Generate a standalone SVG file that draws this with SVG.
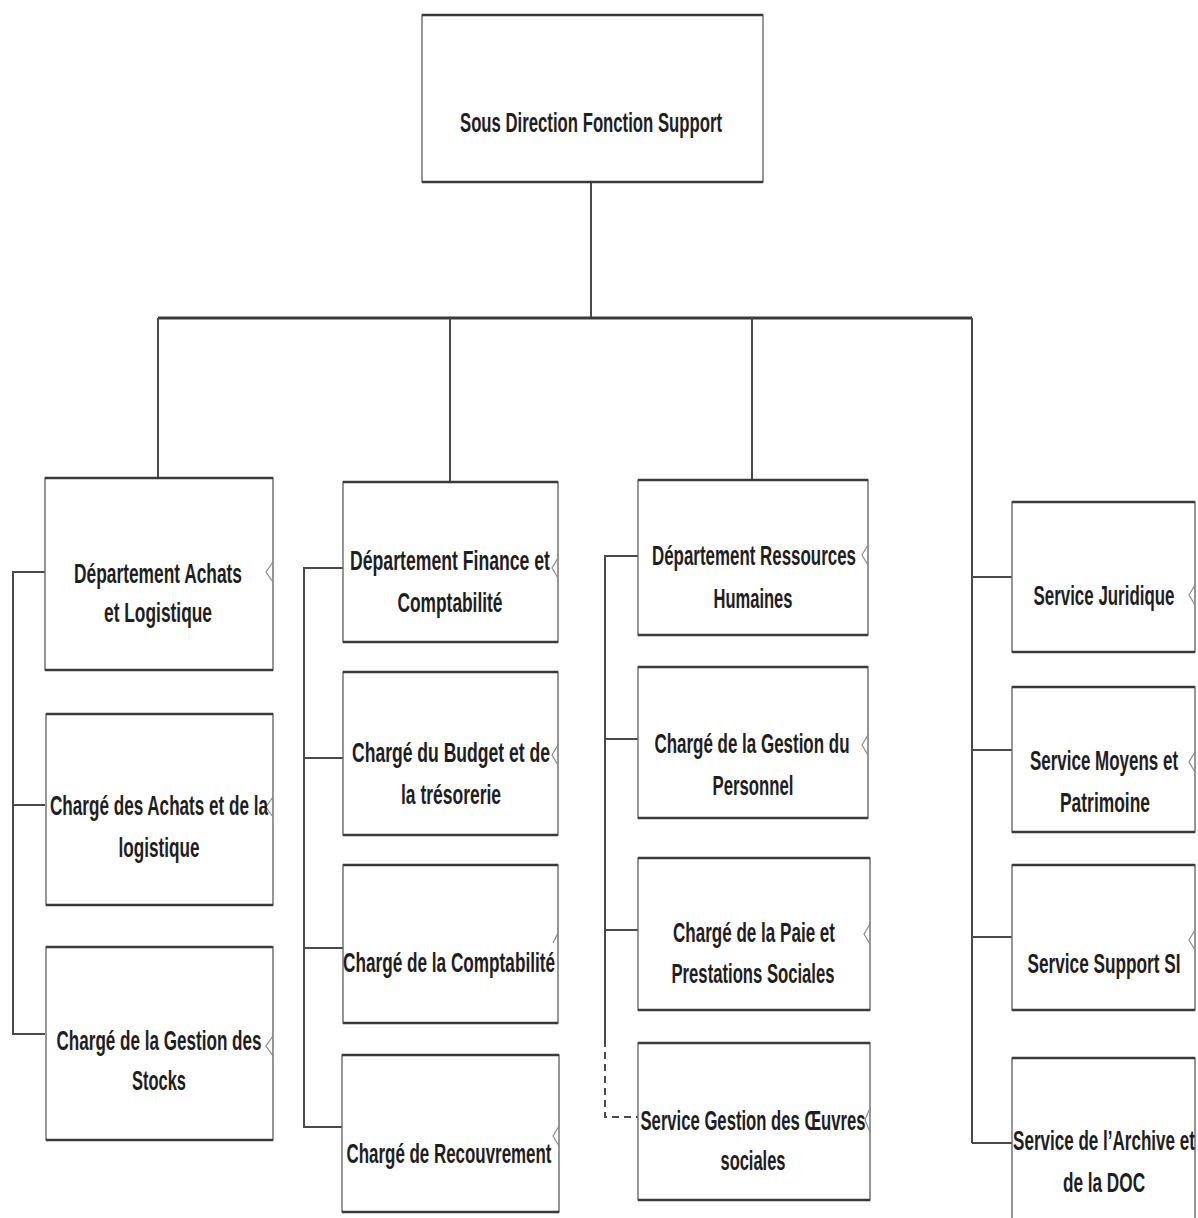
<svg xmlns="http://www.w3.org/2000/svg" width="1198" height="1218" viewBox="0 0 1198 1218">
<defs>
<style>
.bg{fill:#ffffff}
.box{fill:#ffffff;stroke:#6a6a6a;stroke-width:1.4}
.edge{stroke:#3a3a3a;stroke-width:2.6;fill:none}
.t{font-family:"Liberation Sans",Arial,sans-serif;font-weight:bold;font-size:27px;fill:#1e1e1e;text-anchor:middle}
.c{stroke:#4a4a4a;stroke-width:2;fill:none}
.bus{stroke:#3a3a3a;stroke-width:3;fill:none}
.dash{stroke:#4a4a4a;stroke-width:2;fill:none;stroke-dasharray:7 5}
.chev{stroke:#8a8a8a;stroke-width:1.2;fill:none}
</style>
</defs>
<rect class="bg" x="0" y="0" width="1198" height="1218"/>

<g id="connectors">
<path class="c" d="M591 183 V318"/>
<path class="bus" d="M158 318 H972"/>
<path class="c" d="M158 318 V478"/>
<path class="c" d="M450 318 V482"/>
<path class="c" d="M752 318 V480"/>
<path class="c" d="M972 318 V1143"/>
<path class="c" d="M45 572 H13 V1034 H45"/>
<path class="c" d="M13 805 H45"/>
<path class="c" d="M343 568 H304 V1127 H343"/>
<path class="c" d="M304 758 H343"/>
<path class="c" d="M304 948 H343"/>
<path class="c" d="M638 556 H605 V1040"/>
<path class="c" d="M605 739 H638"/>
<path class="c" d="M605 930 H638"/>
<path class="dash" d="M605 1040 V1117 H638"/>
<path class="c" d="M972 577 H1012"/>
<path class="c" d="M972 750 H1012"/>
<path class="c" d="M972 937 H1012"/>
<path class="c" d="M972 1143 H1012"/>
</g>

<g id="node-top">
<rect class="box" x="422" y="15" width="341" height="167"/>
<path class="edge" d="M422 15 H763 M422 182 H763"/>
<text class="t" x="591" y="132" textLength="262" lengthAdjust="spacingAndGlyphs">Sous Direction Fonction Support</text>
</g>

<g id="node-a1">
<rect class="box" x="45" y="478" width="228" height="192"/>
<path class="edge" d="M45 478 H273 M45 670 H273"/>
<path class="chev" d="M273 562 L266 572 L273 582"/>
<text class="t" x="158" y="583" textLength="168" lengthAdjust="spacingAndGlyphs">Département Achats</text>
<text class="t" x="158" y="622" textLength="108" lengthAdjust="spacingAndGlyphs">et Logistique</text>
</g>
<g id="node-a2">
<rect class="box" x="46" y="714" width="227" height="191"/>
<path class="edge" d="M46 714 H273 M46 905 H273"/>
<path class="chev" d="M273 797 L266 807 L273 817"/>
<text class="t" x="159" y="815" textLength="218" lengthAdjust="spacingAndGlyphs">Chargé des Achats et de la</text>
<text class="t" x="159" y="857" textLength="81" lengthAdjust="spacingAndGlyphs">logistique</text>
</g>
<g id="node-a3">
<rect class="box" x="46" y="947" width="227" height="193"/>
<path class="edge" d="M46 947 H273 M46 1140 H273"/>
<path class="chev" d="M273 1036 L266 1046 L273 1056"/>
<text class="t" x="159" y="1050" textLength="205" lengthAdjust="spacingAndGlyphs">Chargé de la Gestion des</text>
<text class="t" x="159" y="1090" textLength="54" lengthAdjust="spacingAndGlyphs">Stocks</text>
</g>

<g id="node-b1">
<rect class="box" x="343" y="482" width="215" height="160"/>
<path class="edge" d="M343 482 H558 M343 642 H558"/>
<path class="chev" d="M558 558 L552 568 L558 578"/>
<text class="t" x="450" y="570" textLength="200" lengthAdjust="spacingAndGlyphs">Département Finance  et</text>
<text class="t" x="450" y="612" textLength="105" lengthAdjust="spacingAndGlyphs">Comptabilité</text>
</g>
<g id="node-b2">
<rect class="box" x="343" y="672" width="215" height="163"/>
<path class="edge" d="M343 672 H558 M343 835 H558"/>
<path class="chev" d="M558 745 L552 755 L558 765"/>
<text class="t" x="451" y="762" textLength="198" lengthAdjust="spacingAndGlyphs">Chargé du Budget et  de</text>
<text class="t" x="451" y="804" textLength="100" lengthAdjust="spacingAndGlyphs">la trésorerie</text>
</g>
<g id="node-b3">
<rect class="box" x="343" y="865" width="215" height="158"/>
<path class="edge" d="M343 865 H558 M343 1023 H558"/>
<path class="chev" d="M558 933 L553 943"/>
<text class="t" x="449" y="972" textLength="212" lengthAdjust="spacingAndGlyphs">Chargé de la Comptabilité</text>
</g>
<g id="node-b4">
<rect class="box" x="342" y="1055" width="217" height="157"/>
<path class="edge" d="M342 1055 H559 M342 1212 H559"/>
<path class="chev" d="M559 1126 L553 1136 L559 1146"/>
<text class="t" x="449" y="1163" textLength="205" lengthAdjust="spacingAndGlyphs">Chargé de Recouvrement</text>
</g>

<g id="node-c1">
<rect class="box" x="638" y="480" width="230" height="155"/>
<path class="edge" d="M638 480 H868 M638 635 H868"/>
<path class="chev" d="M868 545 L862 555 L868 565"/>
<text class="t" x="754" y="565" textLength="204" lengthAdjust="spacingAndGlyphs">Département Ressources</text>
<text class="t" x="753" y="608" textLength="79" lengthAdjust="spacingAndGlyphs">Humaines</text>
</g>
<g id="node-c2">
<rect class="box" x="638" y="667" width="230" height="151"/>
<path class="edge" d="M638 667 H868 M638 818 H868"/>
<path class="chev" d="M868 735 L862 745 L868 755"/>
<text class="t" x="752" y="753" textLength="195" lengthAdjust="spacingAndGlyphs">Chargé de la Gestion du</text>
<text class="t" x="753" y="795" textLength="81" lengthAdjust="spacingAndGlyphs">Personnel</text>
</g>
<g id="node-c3">
<rect class="box" x="638" y="858" width="232" height="152"/>
<path class="edge" d="M638 858 H870 M638 1010 H870"/>
<path class="chev" d="M870 924 L864 934 L870 944"/>
<text class="t" x="754" y="942" textLength="162" lengthAdjust="spacingAndGlyphs">Chargé de la Paie et</text>
<text class="t" x="753" y="983" textLength="163" lengthAdjust="spacingAndGlyphs">Prestations Sociales</text>
</g>
<g id="node-c4">
<rect class="box" x="638" y="1043" width="232" height="157"/>
<path class="edge" d="M638 1043 H870 M638 1200 H870"/>
<path class="chev" d="M870 1108 L865 1120 L870 1132"/>
<text class="t" x="753" y="1130" textLength="225" lengthAdjust="spacingAndGlyphs">Service Gestion des Œuvres</text>
<text class="t" x="753" y="1170" textLength="65" lengthAdjust="spacingAndGlyphs">sociales</text>
</g>

<g id="node-d1">
<rect class="box" x="1012" y="502" width="183" height="150"/>
<path class="edge" d="M1012 502 H1195 M1012 652 H1195"/>
<path class="chev" d="M1195 585 L1189 595 L1195 605"/>
<text class="t" transform="translate(1104 605) scale(0.6 1)" x="0" y="0" textLength="235" lengthAdjust="spacingAndGlyphs">Service Juridique</text>
</g>
<g id="node-d2">
<rect class="box" x="1012" y="687" width="183" height="145"/>
<path class="edge" d="M1012 687 H1195 M1012 832 H1195"/>
<path class="chev" d="M1195 752 L1189 762 L1195 772"/>
<text class="t" transform="translate(1104 770) scale(0.6 1)" x="0" y="0" textLength="247" lengthAdjust="spacingAndGlyphs">Service Moyens et</text>
<text class="t" transform="translate(1105 812) scale(0.6 1)" x="0" y="0" textLength="150" lengthAdjust="spacingAndGlyphs">Patrimoine</text>
</g>
<g id="node-d3">
<rect class="box" x="1012" y="865" width="183" height="145"/>
<path class="edge" d="M1012 865 H1195 M1012 1010 H1195"/>
<path class="chev" d="M1195 930 L1189 940 L1195 950"/>
<text class="t" transform="translate(1104 973) scale(0.6 1)" x="0" y="0" textLength="255" lengthAdjust="spacingAndGlyphs">Service Support SI</text>
</g>
<g id="node-d4">
<rect class="box" x="1012" y="1058" width="183" height="170"/>
<path class="edge" d="M1012 1058 H1195"/>
<text class="t" transform="translate(1104 1150) scale(0.6 1)" x="0" y="0" textLength="303" lengthAdjust="spacingAndGlyphs">Service de l’Archive et</text>
<text class="t" transform="translate(1104 1192) scale(0.6 1)" x="0" y="0" textLength="137" lengthAdjust="spacingAndGlyphs">de la DOC</text>
</g>
</svg>
